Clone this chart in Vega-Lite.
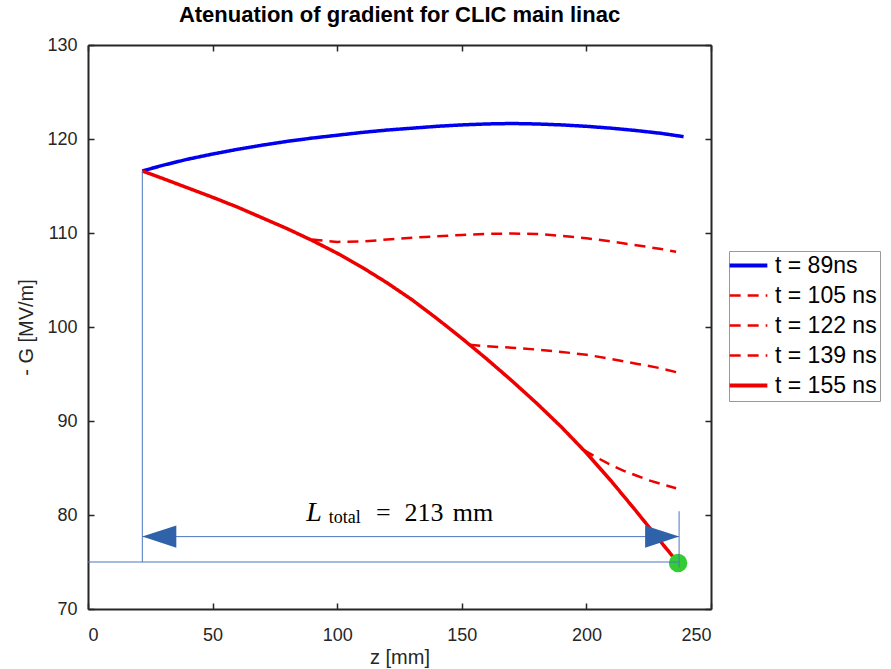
{
  "$schema": "https://vega.github.io/schema/vega-lite/v6.json",
  "width": 623,
  "height": 564,
  "autosize": {"type": "none"},
  "padding": {"left": 88, "top": 45, "right": 180, "bottom": 60},
  "background": "white",
  "title": {"text": "Atenuation of gradient for CLIC main linac", "font": "Liberation Sans", "fontSize": 22, "fontWeight": "bold", "color": "#000000", "anchor": "middle", "offset": 9},
  "datasets": {
    "curves": [
      {"t": "t = 89ns", "z": 21.8, "G": 116.6},
      {"t": "t = 89ns", "z": 30, "G": 117.2},
      {"t": "t = 89ns", "z": 40, "G": 117.85},
      {"t": "t = 89ns", "z": 50, "G": 118.4},
      {"t": "t = 89ns", "z": 60, "G": 118.9},
      {"t": "t = 89ns", "z": 70, "G": 119.35},
      {"t": "t = 89ns", "z": 80, "G": 119.75},
      {"t": "t = 89ns", "z": 90, "G": 120.1},
      {"t": "t = 89ns", "z": 100, "G": 120.4},
      {"t": "t = 89ns", "z": 110, "G": 120.7},
      {"t": "t = 89ns", "z": 120, "G": 120.95},
      {"t": "t = 89ns", "z": 130, "G": 121.15},
      {"t": "t = 89ns", "z": 140, "G": 121.35},
      {"t": "t = 89ns", "z": 150, "G": 121.5},
      {"t": "t = 89ns", "z": 160, "G": 121.6},
      {"t": "t = 89ns", "z": 170, "G": 121.65},
      {"t": "t = 89ns", "z": 180, "G": 121.6},
      {"t": "t = 89ns", "z": 190, "G": 121.5},
      {"t": "t = 89ns", "z": 200, "G": 121.35},
      {"t": "t = 89ns", "z": 210, "G": 121.15},
      {"t": "t = 89ns", "z": 220, "G": 120.9},
      {"t": "t = 89ns", "z": 230, "G": 120.6},
      {"t": "t = 89ns", "z": 239, "G": 120.25},
      {"t": "t = 105 ns", "z": 89.7, "G": 109.3},
      {"t": "t = 105 ns", "z": 100, "G": 109.05},
      {"t": "t = 105 ns", "z": 110, "G": 109.1},
      {"t": "t = 105 ns", "z": 120, "G": 109.3},
      {"t": "t = 105 ns", "z": 130, "G": 109.5},
      {"t": "t = 105 ns", "z": 140, "G": 109.65},
      {"t": "t = 105 ns", "z": 150, "G": 109.8},
      {"t": "t = 105 ns", "z": 160, "G": 109.9},
      {"t": "t = 105 ns", "z": 170, "G": 109.95},
      {"t": "t = 105 ns", "z": 180, "G": 109.9},
      {"t": "t = 105 ns", "z": 190, "G": 109.7},
      {"t": "t = 105 ns", "z": 200, "G": 109.45},
      {"t": "t = 105 ns", "z": 210, "G": 109.1},
      {"t": "t = 105 ns", "z": 220, "G": 108.7},
      {"t": "t = 105 ns", "z": 230, "G": 108.3},
      {"t": "t = 105 ns", "z": 236, "G": 108.0},
      {"t": "t = 122 ns", "z": 153, "G": 98.1},
      {"t": "t = 122 ns", "z": 160, "G": 97.95},
      {"t": "t = 122 ns", "z": 170, "G": 97.8},
      {"t": "t = 122 ns", "z": 180, "G": 97.6},
      {"t": "t = 122 ns", "z": 190, "G": 97.35},
      {"t": "t = 122 ns", "z": 200, "G": 97.05},
      {"t": "t = 122 ns", "z": 210, "G": 96.6},
      {"t": "t = 122 ns", "z": 220, "G": 96.1},
      {"t": "t = 122 ns", "z": 230, "G": 95.6},
      {"t": "t = 122 ns", "z": 236, "G": 95.2},
      {"t": "t = 139 ns", "z": 199, "G": 86.9},
      {"t": "t = 139 ns", "z": 205, "G": 86.0},
      {"t": "t = 139 ns", "z": 210, "G": 85.3},
      {"t": "t = 139 ns", "z": 215, "G": 84.7},
      {"t": "t = 139 ns", "z": 220, "G": 84.2},
      {"t": "t = 139 ns", "z": 225, "G": 83.7},
      {"t": "t = 139 ns", "z": 230, "G": 83.3},
      {"t": "t = 139 ns", "z": 236, "G": 82.85},
      {"t": "t = 155 ns", "z": 21.8, "G": 116.6},
      {"t": "t = 155 ns", "z": 30, "G": 115.8},
      {"t": "t = 155 ns", "z": 40, "G": 114.8},
      {"t": "t = 155 ns", "z": 50, "G": 113.8},
      {"t": "t = 155 ns", "z": 60, "G": 112.75},
      {"t": "t = 155 ns", "z": 70, "G": 111.6},
      {"t": "t = 155 ns", "z": 80, "G": 110.45},
      {"t": "t = 155 ns", "z": 90, "G": 109.2},
      {"t": "t = 155 ns", "z": 100, "G": 107.85},
      {"t": "t = 155 ns", "z": 110, "G": 106.35},
      {"t": "t = 155 ns", "z": 120, "G": 104.7},
      {"t": "t = 155 ns", "z": 130, "G": 102.9},
      {"t": "t = 155 ns", "z": 140, "G": 100.9},
      {"t": "t = 155 ns", "z": 150, "G": 98.8},
      {"t": "t = 155 ns", "z": 160, "G": 96.6},
      {"t": "t = 155 ns", "z": 170, "G": 94.3},
      {"t": "t = 155 ns", "z": 180, "G": 91.9},
      {"t": "t = 155 ns", "z": 190, "G": 89.35},
      {"t": "t = 155 ns", "z": 200, "G": 86.6},
      {"t": "t = 155 ns", "z": 210, "G": 83.6},
      {"t": "t = 155 ns", "z": 220, "G": 80.4},
      {"t": "t = 155 ns", "z": 230, "G": 77.1},
      {"t": "t = 155 ns", "z": 236.8, "G": 74.9}
    ],
    "endpoint": [{"z": 236.8, "G": 74.9}],
    "guides": [
      {"z": 21.8, "z2": 21.8, "G": 116.6, "G2": 75.0},
      {"z": 237.2, "z2": 237.2, "G": 80.4, "G2": 74.4},
      {"z": 0, "z2": 237.2, "G": 75.0, "G2": 75.0},
      {"z": 21.8, "z2": 237.2, "G": 77.7, "G2": 77.7}
    ],
    "arrows": [
      {"end": "start", "z": 21.8, "G": 77.7},
      {"end": "finish", "z": 237.2, "G": 77.7}
    ],
    "label": [
      {"part": "L", "txt": "L", "z": 87.6, "G": 79.39},
      {"part": "sub", "txt": "total", "z": 96.6, "G": 79.12},
      {"part": "main", "txt": "=", "z": 115.6, "G": 79.39},
      {"part": "main", "txt": "213", "z": 127.0, "G": 79.39},
      {"part": "main", "txt": "mm", "z": 146.4, "G": 79.39}
    ]
  },
  "layer": [
    {
      "data": {"name": "curves"},
      "mark": {"type": "line", "strokeCap": "butt"},
      "encoding": {
        "x": {"field": "z", "type": "quantitative", "scale": {"domain": [0, 250], "nice": false, "zero": false},
          "axis": {"orient": "bottom", "title": "z [mm]", "values": [0, 50, 100, 150, 200, 250], "labelPadding": 23, "titlePadding": 3}},
        "y": {"field": "G", "type": "quantitative", "scale": {"domain": [70, 130], "nice": false, "zero": false},
          "axis": {"orient": "left", "title": "- G [MV/m]", "values": [70, 80, 90, 100, 110, 120, 130], "labelPadding": 17, "titlePadding": 10}},
        "color": {"field": "t", "type": "nominal",
          "scale": {"domain": ["t = 89ns", "t = 105 ns", "t = 122 ns", "t = 139 ns", "t = 155 ns"], "range": ["#0000ee", "#ee0000", "#ee0000", "#ee0000", "#ee0000"]},
          "legend": {"title": null, "encode": {"symbols": {"update": {"strokeWidth": {"signal": "indexof(['t = 89ns', 't = 155 ns'], datum.value) >= 0 ? 4 : 2.5"}}}}}},
        "strokeDash": {"field": "t", "type": "nominal",
          "scale": {"domain": ["t = 89ns", "t = 105 ns", "t = 122 ns", "t = 139 ns", "t = 155 ns"], "range": [[1, 0], [11, 7], [11, 7], [11, 7], [1, 0]]},
          "legend": {"title": null}},
        "strokeWidth": {"condition": {"test": "datum.t === 't = 89ns' || datum.t === 't = 155 ns'", "value": 3.5}, "value": 2.5}
      }
    },
    {
      "data": {"name": "endpoint"},
      "mark": {"type": "point", "filled": true, "opacity": 1, "color": "#33cc33", "size": 340},
      "encoding": {
        "x": {"field": "z", "type": "quantitative", "axis": {"orient": "top", "labels": false, "title": null, "values": [0, 50, 100, 150, 200, 250]}},
        "y": {"field": "G", "type": "quantitative", "axis": {"orient": "right", "labels": false, "title": null, "values": [70, 80, 90, 100, 110, 120, 130]}}
      }
    },
    {
      "data": {"name": "guides"},
      "mark": {"type": "rule", "color": "#4a78c0", "strokeWidth": 1},
      "encoding": {
        "x": {"field": "z", "type": "quantitative", "axis": null},
        "x2": {"field": "z2"},
        "y": {"field": "G", "type": "quantitative", "axis": null},
        "y2": {"field": "G2"}
      }
    },
    {
      "data": {"name": "arrows"},
      "mark": {"type": "point", "filled": true, "opacity": 1, "color": "#2f62a8", "size": 1156},
      "encoding": {
        "x": {"field": "z", "type": "quantitative", "axis": null},
        "y": {"field": "G", "type": "quantitative", "axis": null},
        "shape": {"field": "end", "type": "nominal", "scale": {"domain": ["start", "finish"], "range": ["M0,0L2,-0.65L2,0.65Z", "M0,0L-2,-0.65L-2,0.65Z"]}, "legend": null}
      }
    },
    {
      "data": {"name": "label"},
      "transform": [{"filter": "datum.part === 'L'"}],
      "mark": {"type": "text", "font": "Liberation Serif", "fontStyle": "italic", "fontSize": 28, "align": "left", "baseline": "alphabetic", "color": "#000000"},
      "encoding": {
        "x": {"field": "z", "type": "quantitative", "axis": null},
        "y": {"field": "G", "type": "quantitative", "axis": null},
        "text": {"field": "txt"}
      }
    },
    {
      "data": {"name": "label"},
      "transform": [{"filter": "datum.part === 'sub'"}],
      "mark": {"type": "text", "font": "Liberation Serif", "fontSize": 18, "align": "left", "baseline": "alphabetic", "color": "#000000"},
      "encoding": {
        "x": {"field": "z", "type": "quantitative", "axis": null},
        "y": {"field": "G", "type": "quantitative", "axis": null},
        "text": {"field": "txt"}
      }
    },
    {
      "data": {"name": "label"},
      "transform": [{"filter": "datum.part === 'main'"}],
      "mark": {"type": "text", "font": "Liberation Serif", "fontSize": 26, "align": "left", "baseline": "alphabetic", "color": "#000000"},
      "encoding": {
        "x": {"field": "z", "type": "quantitative", "axis": null},
        "y": {"field": "G", "type": "quantitative", "axis": null},
        "text": {"field": "txt"}
      }
    }
  ],
  "resolve": {"axis": {"x": "independent", "y": "independent"}},
  "config": {
    "view": {"stroke": null},
    "axis": {
      "grid": false,
      "domainColor": "#262626", "domainWidth": 2,
      "tickColor": "#262626", "tickWidth": 1.5, "tickSize": -6,
      "labelColor": "#262626", "labelFont": "Liberation Sans", "labelFontSize": 18,
      "titleColor": "#262626", "titleFont": "Liberation Sans", "titleFontSize": 20, "titleFontWeight": "normal"
    },
    "legend": {
      "orient": "none", "legendX": 641, "legendY": 206,
      "fillColor": "white", "strokeColor": "#999999", "padding": 3,
      "labelFont": "Liberation Sans", "labelFontSize": 23, "labelColor": "#000000", "labelOffset": 15,
      "symbolType": "M-1.3,0H1.3", "symbolSize": 841, "symbolOffset": 5, "symbolStrokeWidth": 3, "rowPadding": 6
    }
  }
}
